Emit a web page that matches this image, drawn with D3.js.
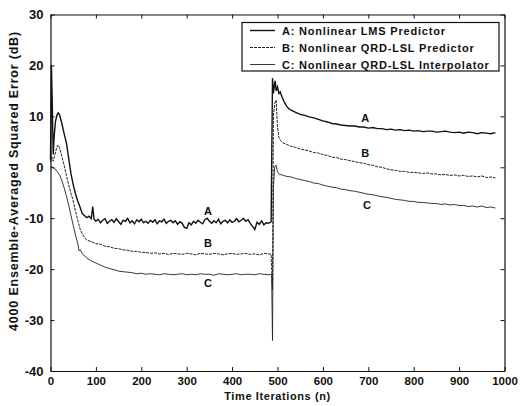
<!DOCTYPE html>
<html>
<head>
<meta charset="UTF-8" />
<script src="https://d3js.org/d3.v7.min.js"></script>
<style>
  body { margin: 0; background: #fff; }
  svg text { font-family: 'Liberation Sans', Arial, sans-serif; font-weight: bold; fill: #111; }
</style>
</head>
<body>
<svg id="chart" width="520" height="406"></svg>
<script>
// tick labels
const xTicks = [0, 100, 200, 300, 400, 500, 600, 700, 800, 900, 1000];
const yTicks = [-40, -30, -20, -10, 0, 10, 20, 30];

const legendNames = [
  "A: Nonlinear LMS Predictor",
  "B: Nonlinear QRD-LSL Predictor",
  "C: Nonlinear QRD-LSL Interpolator"
];

// [iteration, dB]
const seriesA = [
  [0,1.5],[2,20],[4,12],[6,2.5],[8,6],[11,9],[14,10.2],[17,10.7],[20,10.3],[25,8.6],[30,6.6],[35,4.8],
  [40,1.8],[45,-1.2],[50,-3.4],[55,-5.2],[60,-6.6],[65,-7.8],[70,-9.1],[75,-9.5],[80,-9.9],[85,-9.6],
  [90,-10.1],[93,-7.7],[96,-10.2],[100,-10.6],[105,-10.2],[110,-10.9],[115,-10.4],[120,-10.1],[125,-11.0],
  [130,-10.6],[135,-10.3],[140,-10.8],[145,-10.1],[150,-10.7],[155,-11.2],[160,-10.4],[165,-10.6],[170,-10.0],
  [175,-10.9],[180,-10.5],[185,-11.1],[190,-10.3],[195,-10.7],[200,-10.2],[205,-10.9],[210,-10.6],[215,-11.0],
  [220,-10.4],[225,-10.8],[230,-10.3],[235,-11.1],[240,-10.5],[245,-10.7],[250,-10.2],[255,-11.0],[260,-10.6],
  [265,-10.4],[270,-10.9],[275,-10.5],[280,-11.2],[285,-10.7],[290,-11.0],[295,-11.8],[300,-12.0],[305,-10.9],
  [310,-11.3],[315,-10.6],[320,-11.0],[325,-10.4],[330,-10.8],[335,-11.1],[340,-10.3],[345,-10.0],[350,-10.6],
  [355,-11.0],[360,-10.5],[365,-10.9],[370,-10.2],[375,-11.1],[380,-10.6],[385,-10.4],[390,-10.9],[395,-10.3],
  [400,-10.8],[405,-10.6],[410,-10.1],[415,-10.7],[420,-10.4],[425,-10.0],[430,-10.6],[435,-10.3],[440,-11.0],
  [445,-11.6],[450,-12.2],[455,-10.8],[460,-11.2],[465,-10.5],[470,-11.3],[475,-10.9],[480,-11.0],[486,-10.7],
  [489,17.5],[491,14.5],[493,16.0],[495,17.0],[497,15.0],[500,15.8],[503,14.5],[506,14.8],[510,13.8],
  [515,12.8],[520,12.0],[525,11.5],[530,11.2],[540,10.8],[550,10.4],[560,10.2],[570,9.9],[580,9.7],
  [590,9.4],[600,9.1],[610,8.9],[620,8.6],[630,8.5],[640,8.3],[650,8.2],[660,8.1],[670,8.1],[680,7.9],
  [690,7.9],[700,7.7],[710,7.8],[720,7.6],[730,7.6],[740,7.4],[750,7.5],[760,7.3],[770,7.4],[780,7.2],
  [790,7.3],[800,7.1],[810,7.2],[820,7.0],[830,7.1],[840,7.1],[850,6.9],[860,7.0],[870,7.1],[880,6.9],
  [890,6.8],[900,6.9],[910,6.7],[920,6.9],[930,6.8],[940,6.6],[950,6.8],[960,6.7],[970,6.6],[980,6.8]
];

const seriesB = [
  [0,1],[3,2],[6,1.2],[10,2.6],[14,4.0],[17,4.4],[20,3.8],[25,2.1],[30,0.4],[35,-1.6],[40,-3.4],[45,-5.1],
  [50,-6.6],[55,-8.6],[60,-10.4],[65,-12.1],[70,-13.1],[75,-13.8],[80,-14.3],[90,-14.6],[100,-15.0],
  [110,-15.1],[120,-15.5],[130,-15.6],[140,-15.9],[150,-16.0],[160,-16.2],[170,-16.3],[180,-16.5],[190,-16.5],
  [200,-16.7],[210,-16.7],[220,-16.9],[230,-16.8],[240,-17.0],[250,-16.9],[260,-17.1],[270,-16.9],[280,-17.0],
  [290,-17.1],[300,-16.9],[310,-17.0],[320,-17.2],[330,-16.9],[340,-17.0],[350,-17.1],[360,-16.9],[370,-17.0],
  [380,-17.2],[390,-17.0],[400,-16.9],[410,-17.1],[420,-17.0],[430,-16.9],[440,-17.1],[450,-17.0],[460,-17.2],
  [470,-16.9],[480,-17.0],[486,-17.1],[489,-24],[491,10],[494,12.6],[497,13.2],[500,8.0],[503,5.9],[507,5.2],
  [512,4.8],[520,4.5],[530,4.1],[540,3.9],[550,3.6],[560,3.4],[570,3.2],[580,2.9],[590,2.8],[600,2.5],
  [610,2.3],[620,2.0],[630,1.9],[640,1.6],[650,1.5],[660,1.3],[670,1.1],[680,0.9],[690,0.8],[700,0.5],
  [710,0.4],[720,0.1],[730,0.0],[740,-0.3],[750,-0.5],[760,-0.6],[770,-0.8],[780,-0.8],[790,-1.0],[800,-1.0],
  [810,-1.1],[820,-1.2],[830,-1.1],[840,-1.3],[850,-1.3],[860,-1.5],[870,-1.4],[880,-1.6],[890,-1.5],
  [900,-1.7],[910,-1.6],[920,-1.8],[930,-1.7],[940,-1.9],[950,-1.7],[960,-2.0],[970,-1.9],[980,-2.1]
];

const seriesC = [
  [0,0.2],[5,0],[10,-0.3],[15,-0.9],[20,-1.5],[25,-2.6],[30,-4.0],[35,-5.6],[40,-7.4],[45,-9.4],[50,-11.4],
  [55,-13.3],[60,-14.9],[63,-16.4],[66,-16.2],[70,-17.0],[80,-17.8],[90,-18.4],[100,-18.8],[110,-19.2],
  [120,-19.6],[130,-19.9],[140,-20.1],[150,-20.4],[160,-20.5],[170,-20.6],[180,-20.7],[190,-20.9],[200,-20.8],
  [210,-21.0],[220,-20.9],[230,-21.0],[240,-21.1],[250,-20.9],[260,-21.0],[270,-21.1],[280,-21.0],[290,-20.9],
  [300,-21.1],[310,-21.0],[320,-21.1],[330,-20.9],[340,-21.0],[350,-21.0],[360,-21.2],[370,-20.9],[380,-21.0],
  [390,-21.1],[400,-21.0],[410,-20.9],[420,-21.1],[430,-21.0],[440,-21.0],[450,-21.1],[460,-20.9],[470,-21.0],
  [480,-21.1],[487,-21.0],[489,-34],[491,-4],[494,0.2],[497,0.4],[500,-0.9],[504,-1.4],[510,-1.5],[520,-1.8],
  [530,-1.9],[540,-2.2],[550,-2.4],[560,-2.6],[570,-2.8],[580,-3.1],[590,-3.2],[600,-3.5],[610,-3.7],
  [620,-3.9],[630,-4.0],[640,-4.3],[650,-4.4],[660,-4.6],[670,-4.7],[680,-4.9],[690,-5.1],[700,-5.3],
  [710,-5.4],[720,-5.6],[730,-5.8],[740,-5.9],[750,-6.1],[760,-6.3],[770,-6.4],[780,-6.5],[790,-6.7],
  [800,-6.7],[810,-6.9],[820,-6.9],[830,-7.0],[840,-7.1],[850,-7.1],[860,-7.3],[870,-7.2],[880,-7.4],
  [890,-7.3],[900,-7.5],[910,-7.5],[920,-7.7],[930,-7.6],[940,-7.8],[950,-7.6],[960,-7.9],[970,-7.8],[980,-8.0]
];

// letters written next to the curves, in data units
const curveLetters = [
  ["A", 347, -8.5], ["B", 347, -14.9], ["C", 347, -22.7],
  ["A", 693, 9.7], ["B", 693, 2.8], ["C", 697, -7.4]
];

const svg = d3.select("#chart");
const plotL = 50.5, plotR = 504.5, plotT = 14.5, plotB = 371;

const x = d3.scaleLinear().domain([0, 1000]).range([plotL, plotR]);
const y = d3.scaleLinear().domain([-40, 30]).range([plotB, plotT]);

const styles = [
  { w: 1.4, dash: null, col: "#111" },
  { w: 1.0, dash: "3,1", col: "#222" },
  { w: 0.9, dash: null, col: "#222" }
];

const line = d3.line().x(d => x(d[0])).y(d => y(d[1]));

[seriesA, seriesB, seriesC].forEach((s, i) => {
  svg.append("path")
    .attr("d", line(s))
    .attr("fill", "none")
    .attr("stroke", styles[i].col)
    .attr("stroke-width", styles[i].w)
    .attr("stroke-dasharray", styles[i].dash);
});

// axes, ticks inward on all four sides
const plain = d => String(d);
const tickFont = g => g.selectAll("text")
  .style("font-family", "'Liberation Sans', Arial, sans-serif").style("font-weight", "bold").attr("fill", "#111");
svg.append("g").attr("transform", `translate(0,${plotB})`)
  .call(d3.axisBottom(x).tickValues(xTicks).tickFormat(plain).tickSizeInner(-4).tickSizeOuter(0).tickPadding(6))
  .call(tickFont).call(g => g.selectAll("text").attr("font-size", 11.5));
svg.append("g").attr("transform", `translate(0,${plotT})`)
  .call(d3.axisTop(x).tickValues(xTicks).tickSizeInner(-4).tickSizeOuter(0).tickFormat(""));
svg.append("g").attr("transform", `translate(${plotL},0)`)
  .call(d3.axisLeft(y).tickValues(yTicks).tickFormat(plain).tickSizeInner(-4).tickSizeOuter(0).tickPadding(7))
  .call(tickFont).call(g => g.selectAll("text").attr("font-size", 13));
svg.append("g").attr("transform", `translate(${plotR},0)`)
  .call(d3.axisRight(y).tickValues(yTicks).tickSizeInner(-4).tickSizeOuter(0).tickFormat(""));
svg.selectAll(".domain").attr("stroke", "#111").attr("stroke-width", 1.2);
svg.selectAll(".tick line").attr("stroke", "#111");

// curve letters
svg.selectAll(".letter").data(curveLetters).enter().append("text")
  .attr("class", "letter")
  .attr("x", d => x(d[1])).attr("y", d => y(d[2]))
  .attr("text-anchor", "middle").attr("dominant-baseline", "central")
  .attr("font-size", 11)
  .text(d => d[0]);

// legend
const lg = svg.append("g");
lg.append("rect").attr("x", 242).attr("y", 22.5).attr("width", 257).attr("height", 48.5)
  .attr("fill", "#fff").attr("stroke", "#111").attr("stroke-width", 1.2);
legendNames.forEach((name, i) => {
  const cy = 30.5 + i * 17;
  lg.append("line").attr("x1", 250).attr("x2", 275).attr("y1", cy).attr("y2", cy)
    .attr("stroke", styles[i].col).attr("stroke-width", styles[i].w)
    .attr("stroke-dasharray", styles[i].dash);
  lg.append("text").attr("x", 282).attr("y", cy).attr("dominant-baseline", "central")
    .attr("font-size", 11).attr("letter-spacing", 0.8).text(name);
});

// axis titles
svg.append("text").attr("x", (plotL + plotR) / 2).attr("y", 400)
  .attr("text-anchor", "middle").attr("font-size", 11).attr("letter-spacing", 0.6).text("Time Iterations (n)");
svg.append("text").attr("transform", "translate(18,181) rotate(-90)")
  .attr("text-anchor", "middle").attr("font-size", 12.5).attr("letter-spacing", 0.8)
  .text("4000 Ensemble-Averaged Squared Error (dB)");
</script>
</body>
</html>
